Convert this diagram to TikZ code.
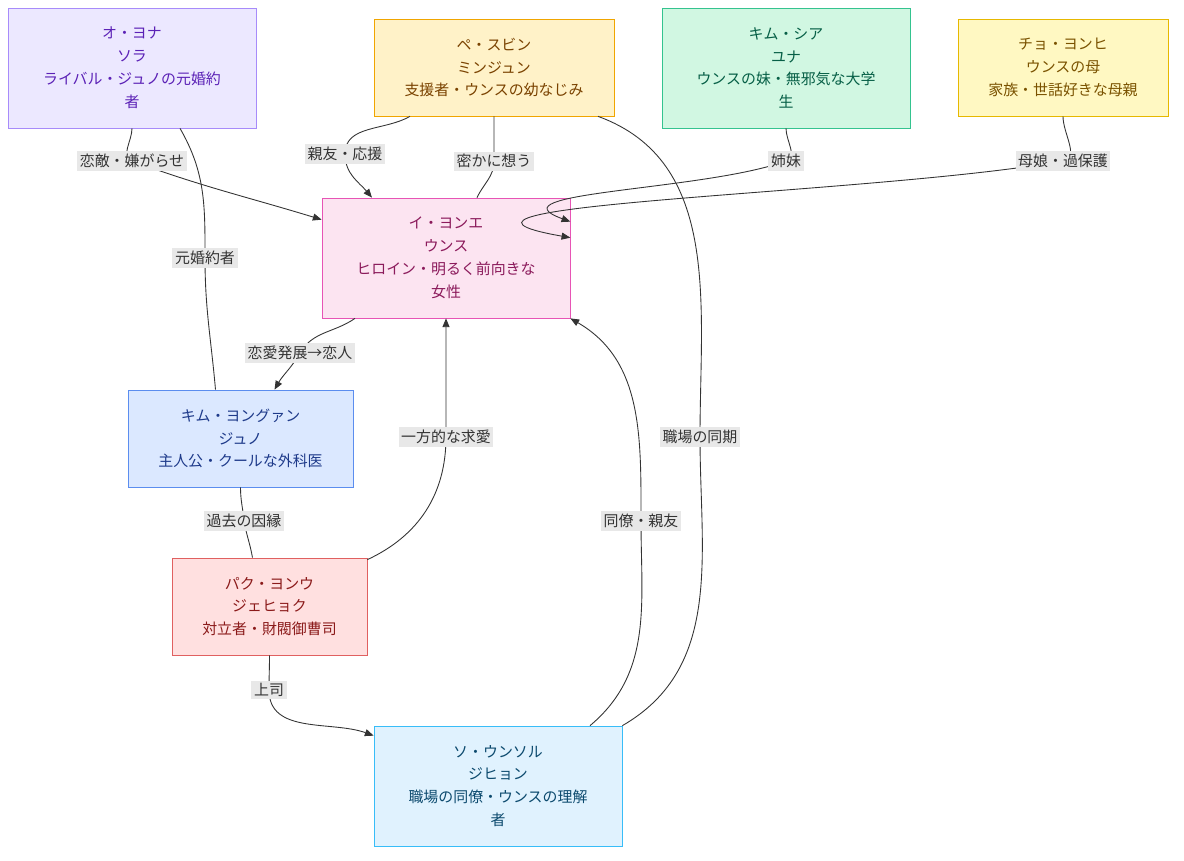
\documentclass[tikz,border=0pt]{standalone}
\usepackage{fontspec}
\setmainfont{Noto Sans CJK JP}
\usetikzlibrary{arrows.meta,calc}

\definecolor{purpF}{HTML}{ECE8FF}\definecolor{purpD}{HTML}{A78BFA}\definecolor{purpT}{HTML}{5B21B6}
\definecolor{yelF}{HTML}{FFF2C8}\definecolor{yelD}{HTML}{F0A500}\definecolor{yelT}{HTML}{7A4200}
\definecolor{grnF}{HTML}{D1F7E2}\definecolor{grnD}{HTML}{34C38F}\definecolor{grnT}{HTML}{065F46}
\definecolor{lemF}{HTML}{FFF8C2}\definecolor{lemD}{HTML}{E6B800}\definecolor{lemT}{HTML}{7A5200}
\definecolor{pnkF}{HTML}{FCE4F1}\definecolor{pnkD}{HTML}{E754B5}\definecolor{pnkT}{HTML}{8B1A5B}
\definecolor{bluF}{HTML}{DBE8FF}\definecolor{bluD}{HTML}{5B8DEF}\definecolor{bluT}{HTML}{1E3A8A}
\definecolor{redF}{HTML}{FFE0E0}\definecolor{redD}{HTML}{E06060}\definecolor{redT}{HTML}{8B1A1A}
\definecolor{skyF}{HTML}{E0F2FE}\definecolor{skyD}{HTML}{38BDF8}\definecolor{skyT}{HTML}{0C4A6E}
\definecolor{lblF}{HTML}{E8E8E8}

\begin{document}
\begin{tikzpicture}[x=0.02cm,y=-0.02cm,
  person/.style={draw,rectangle,align=center,inner sep=0pt,
    font=\fontsize{8.5}{13}\selectfont},
  lbl/.style={fill=lblF,inner sep=1.5pt,text=black!80,font=\fontsize{8.5}{10}\selectfont},
  link/.style={draw=black!80,line width=0.5pt},
  arr/.style={link,-{Triangle[length=5pt,width=4pt]}}]
\useasboundingbox (0,0) rectangle (1184,860);
% characters
\node[person,fill=purpF,draw=purpD,text=purpT,minimum width=248*0.02cm,minimum height=120*0.02cm] (ona) at (132,68) {オ・ヨナ\\ソラ\\ライバル・ジュノの元婚約\\者};
\node[person,fill=yelF,draw=yelD,text=yelT,minimum width=240*0.02cm,minimum height=97*0.02cm] (pae) at (494,67.5) {ペ・スビン\\ミンジュン\\支援者・ウンスの幼なじみ};
\node[person,fill=grnF,draw=grnD,text=grnT,minimum width=248*0.02cm,minimum height=120*0.02cm] (sia) at (786,68) {キム・シア\\ユナ\\ウンスの妹・無邪気な大学\\生};
\node[person,fill=lemF,draw=lemD,text=lemT,minimum width=210*0.02cm,minimum height=97*0.02cm] (cho) at (1063,67.5) {チョ・ヨンヒ\\ウンスの母\\家族・世話好きな母親};
\node[person,fill=pnkF,draw=pnkD,text=pnkT,minimum width=248*0.02cm,minimum height=120*0.02cm] (yonge) at (446,258) {イ・ヨンエ\\ウンス\\ヒロイン・明るく前向きな\\女性};
\node[person,fill=bluF,draw=bluD,text=bluT,minimum width=225*0.02cm,minimum height=97*0.02cm] (kim) at (240.5,438.5) {キム・ヨングァン\\ジュノ\\主人公・クールな外科医};
\node[person,fill=redF,draw=redD,text=redT,minimum width=195*0.02cm,minimum height=97*0.02cm] (park) at (269.5,606.5) {パク・ヨンウ\\ジェヒョク\\対立者・財閥御曹司};
\node[person,fill=skyF,draw=skyD,text=skyT,minimum width=248*0.02cm,minimum height=120*0.02cm] (so) at (498,786) {ソ・ウンソル\\ジヒョン\\職場の同僚・ウンスの理解\\者};
% label spots
\coordinate (c1) at (132,161);
\coordinate (c2) at (205,258);
\coordinate (c3) at (345,154);
\coordinate (c4) at (494,161);
\coordinate (c5) at (700,437);
\coordinate (c6) at (786,161);
\coordinate (c7) at (1063,161);
\coordinate (c8) at (300,353);
\coordinate (c9) at (244,521);
\coordinate (c10) at (446,437);
\coordinate (c11) at (269,690);
\coordinate (c12) at (641,521);
% relations
\draw[arr] (ona.south) to[out=-90,in=160] (c1) to[out=-20,in=163] ($(yonge.north west)+(0,22)$);
\draw[link] ($(ona.south)+(48,0)$) to[out=-60,in=90] (c2) to[out=-90,in=95] ($(kim.north)+(-25,0)$);
\draw[arr] ($(pae.south)+(-84,0)$) to[out=-150,in=90] (c3) to[out=-90,in=130] ($(yonge.north)+(-74,0)$);
\draw[link] (pae.south) to[out=-90,in=90] (c4) to[out=-90,in=65] ($(yonge.north)+(31,0)$);
\draw[link] ($(pae.south)+(104,0)$) to[out=-20,in=90] (c5) to[out=-90,in=30] ($(so.north east)$);
\draw[arr] (sia.south) to[out=-90,in=15] (c6) to[out=-160,in=160] ($(yonge.north east)+(0,24)$);
\draw[arr] (cho.south) to[out=-90,in=10] (c7) to[out=-170,in=170] ($(yonge.north east)+(0,40)$);
\draw[arr] ($(yonge.south)+(-91,0)$) to[out=-145,in=60] (c8) to[out=-120,in=60] ($(kim.north)+(34,0)$);
\draw[link] (kim.south) to[out=-90,in=95] (c9) to[out=-80,in=100] ($(park.north)+(-17,0)$);
\draw[arr] ($(park.north east)+(0,2)$) to[out=25,in=-90] (c10) to[out=90,in=-90] (yonge.south);
\draw[arr] (park.south) to[out=-90,in=90] (c11) to[out=-90,in=160] ($(so.north west)+(0,10)$);
\draw[arr] ($(so.north)+(92,0)$) to[out=40,in=-90] (c12) to[out=90,in=-30] (yonge.south east);
% labels
\node[lbl] (l1) at (c1) {恋敵・嫌がらせ};
\node[lbl] (l2) at (c2) {元婚約者};
\node[lbl] (l3) at (c3) {親友・応援};
\node[lbl] (l4) at (c4) {密かに想う};
\node[lbl] (l5) at (c5) {職場の同期};
\node[lbl] (l6) at (c6) {姉妹};
\node[lbl] (l7) at (c7) {母娘・過保護};
\node[lbl] (l8) at (c8) {恋愛発展→恋人};
\node[lbl] (l9) at (c9) {過去の因縁};
\node[lbl] (l10) at (c10) {一方的な求愛};
\node[lbl] (l11) at (c11) {上司};
\node[lbl] (l12) at (c12) {同僚・親友};
\end{tikzpicture}
\end{document}
